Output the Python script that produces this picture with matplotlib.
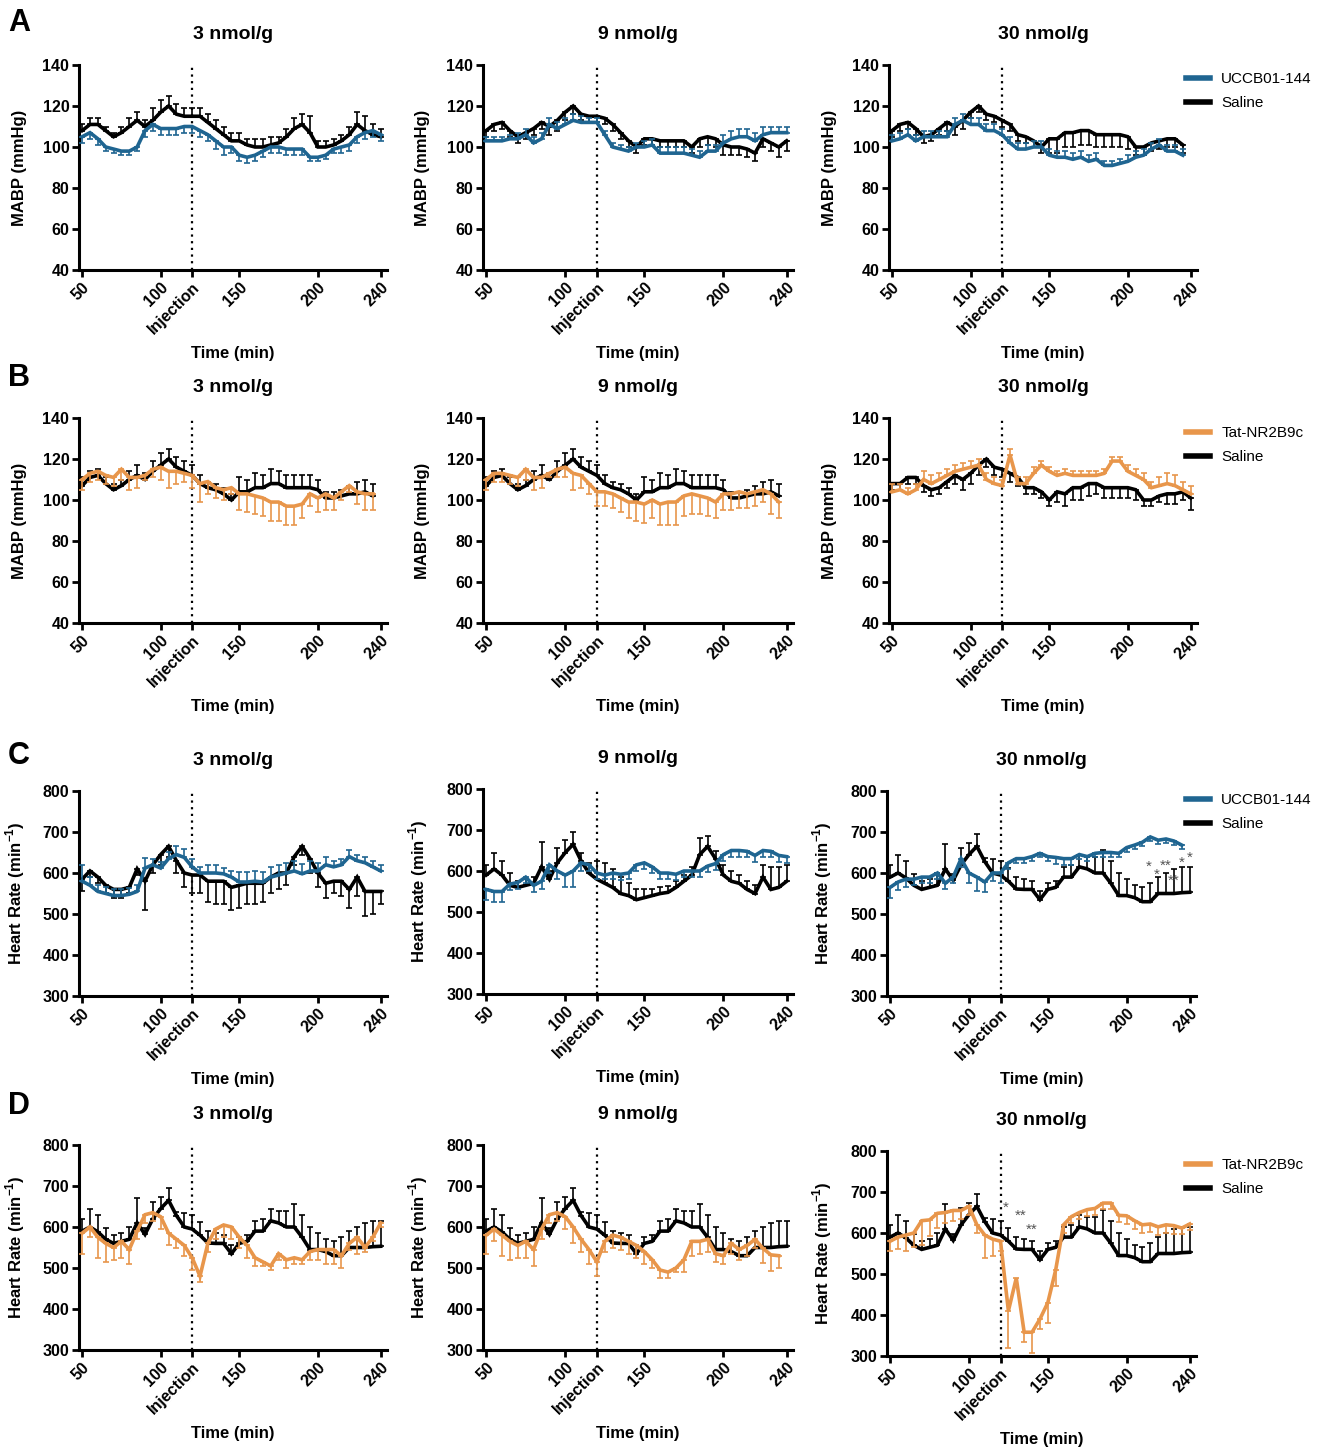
import numpy as np
import matplotlib
matplotlib.use('Agg')
import matplotlib.pyplot as plt
from matplotlib.lines import Line2D

plt.rcParams['font.family'] = ['Liberation Sans', 'DejaVu Sans']
plt.rcParams['font.weight'] = 'bold'
plt.rcParams['axes.labelweight'] = 'bold'
plt.rcParams['mathtext.fontset'] = 'custom'
plt.rcParams['mathtext.rm'] = 'Liberation Sans'
plt.rcParams['mathtext.bf'] = 'Liberation Sans:bold'

BLUE = '#1f6591'
ORANGE = '#e8964b'
W, H = 1323, 1448

##sampling times (min) and axis labels
time_min = [50, 55, 60, 65, 70, 75, 80, 85, 90, 95, 100, 105, 110, 115, 120, 125, 130, 135, 140, 145,
            150, 155, 160, 165, 170, 175, 180, 185, 190, 195, 200, 205, 210, 215, 220, 225, 230, 235, 240]
tick_pos = [50, 100, 120, 150, 200, 240]
tick_lab = ['50', '100', 'Injection', '150', '200', '240']
doses = ['3 nmol/g', '9 nmol/g', '30 nmol/g']

##row A: MABP, UCCB01-144
a3_sal = [108, 111, 111, 108, 105, 107, 110, 113, 110, 113, 117, 120, 116, 115, 115, 115, 112, 109, 106, 103,
          103, 101, 100, 100, 101, 102, 105, 109, 111, 107, 100, 100, 101, 103, 106, 111, 108, 106, 105]
a3_sal_err = [3, 3, 3, 2, 2, 3, 4, 4, 3, 6, 6, 5, 5, 4, 4, 4, 4, 4, 4, 4, 4, 3, 4, 4, 4, 3, 4, 5, 5, 8,
              3, 3, 3, 3, 4, 6, 7, 5, 4]
a3_ucc = [105, 107, 104, 100, 99, 98, 98, 100, 108, 111, 109, 109, 109, 110, 110, 108, 106, 103, 100, 100,
          96, 95, 96, 98, 100, 100, 99, 99, 99, 95, 95, 96, 99, 100, 101, 105, 107, 108, 106]
a3_ucc_err = [3, 3, 3, 2, 2, 2, 2, 2, 3, 3, 3, 3, 3, 3, 3, 3, 3, 4, 4, 3, 3, 3, 3, 3, 3, 3, 3, 3, 3, 2,
              2, 2, 2, 3, 3, 3, 3, 3, 3]

a9_sal = [108, 111, 112, 108, 105, 107, 109, 112, 110, 113, 117, 120, 116, 115, 115, 114, 111, 107, 103, 100,
          104, 104, 103, 103, 103, 103, 100, 104, 105, 104, 101, 100, 100, 99, 97, 104, 102, 100, 103]
a9_sal_err = [3, 3, 3, 3, 3, 3, 3, 3, 4, 5, 4, 4, 3, 3, 3, 3, 3, 3, 3, 3, 3, 3, 3, 3, 3, 3, 3, 4, 4, 4,
              5, 4, 4, 4, 4, 4, 4, 5, 5]
a9_ucc = [103, 103, 103, 104, 104, 106, 102, 104, 111, 109, 111, 113, 112, 112, 112, 106, 100, 99, 98, 100,
          100, 101, 97, 97, 97, 97, 96, 95, 98, 98, 102, 104, 105, 105, 103, 106, 107, 107, 107]
a9_ucc_err = [2, 2, 2, 2, 3, 3, 3, 3, 3, 3, 3, 3, 3, 2, 2, 2, 2, 2, 2, 2, 3, 3, 3, 3, 3, 3, 3, 3, 3, 3,
              4, 4, 4, 4, 4, 4, 3, 3, 3]

a30_sal = [108, 111, 112, 109, 105, 106, 109, 112, 110, 113, 117, 120, 116, 115, 113, 111, 106, 105, 103, 100,
           104, 104, 107, 107, 108, 108, 106, 106, 106, 106, 105, 100, 100, 102, 103, 104, 104, 101]
a30_sal_err = [3, 3, 3, 3, 3, 3, 3, 4, 4, 4, 3, 3, 3, 3, 3, 3, 3, 3, 3, 3, 7, 7, 7, 7, 7, 7, 6, 6, 6, 6,
               6, 4, 4, 4, 4, 4, 4, 4]
a30_ucc = [103, 104, 106, 103, 105, 105, 105, 105, 111, 113, 111, 111, 108, 108, 106, 102, 99, 99, 100, 100,
           96, 95, 95, 94, 95, 93, 94, 91, 91, 92, 93, 95, 96, 99, 101, 98, 98, 96]
a30_ucc_err = [3, 3, 3, 3, 3, 3, 3, 3, 3, 3, 3, 3, 3, 3, 3, 3, 3, 3, 3, 3, 3, 3, 3, 3, 3, 3, 3, 2, 2, 2,
               3, 3, 3, 3, 3, 3, 3, 3]

##row B: MABP, Tat-NR2B9c
b_sal = [107, 111, 112, 108, 105, 107, 110, 112, 110, 114, 117, 120, 116, 114, 112, 108, 106, 105, 103, 100,
         104, 104, 106, 106, 108, 108, 106, 106, 106, 106, 105, 101, 101, 102, 103, 103, 104, 102]
b_sal_err = [4, 3, 3, 3, 3, 3, 4, 5, 3, 5, 6, 5, 5, 5, 5, 4, 3, 3, 3, 3, 7, 6, 7, 6, 7, 6, 6, 6, 6, 6,
             5, 3, 3, 3, 4, 6, 6, 6]
b3_tat = [110, 113, 114, 112, 111, 115, 111, 111, 112, 115, 116, 114, 114, 113, 112, 108, 109, 106, 105, 106,
          103, 103, 102, 101, 99, 99, 97, 97, 98, 103, 101, 103, 101, 104, 107, 104, 103, 103]
b3_tat_err = [5, 4, 4, 4, 4, 5, 6, 5, 2, 4, 6, 8, 6, 4, 6, 9, 6, 5, 5, 3, 8, 9, 9, 9, 9, 9, 9, 9, 7, 6,
              7, 8, 6, 4, 3, 6, 8, 8]
b9_tat = [110, 113, 113, 112, 111, 115, 111, 111, 113, 115, 116, 113, 112, 108, 104, 104, 103, 101, 99, 99,
          98, 100, 98, 99, 99, 102, 103, 102, 101, 99, 103, 103, 104, 103, 104, 105, 103, 99]
b9_tat_err = [5, 4, 4, 4, 4, 5, 6, 5, 2, 4, 5, 8, 6, 5, 7, 7, 7, 7, 8, 9, 9, 9, 10, 11, 11, 10, 10, 9, 9, 8,
              8, 8, 8, 7, 7, 6, 10, 8]
b30_sal = [108, 108, 111, 111, 107, 105, 106, 109, 112, 110, 113, 117, 120, 116, 115, 113, 111, 106, 106, 104,
           100, 104, 103, 106, 106, 108, 108, 106, 106, 106, 106, 105, 100, 100, 102, 103, 103, 104, 101]
b30_sal_err = [3, 3, 3, 3, 3, 3, 3, 3, 4, 5, 5, 5, 4, 4, 4, 4, 4, 3, 3, 3, 3, 5, 6, 6, 6, 6, 5, 5, 5, 5,
               5, 5, 3, 3, 3, 5, 5, 4, 6]
b30_tat = [104, 105, 103, 105, 110, 108, 110, 112, 114, 115, 116, 117, 110, 108, 107, 122, 108, 108, 113, 117,
           114, 112, 113, 112, 112, 112, 112, 113, 119, 119, 114, 112, 110, 106, 107, 108, 107, 105, 103]
b30_tat_err = [4, 3, 3, 3, 4, 4, 3, 3, 3, 3, 3, 3, 3, 3, 3, 3, 3, 3, 3, 2, 2, 2, 2, 2, 2, 2, 2, 2, 2, 2,
               3, 3, 3, 3, 4, 5, 5, 4, 4]

##row C: heart rate, UCCB01-144
c3_sal = [585, 605, 590, 570, 560, 560, 565, 610, 580, 620, 645, 665, 630, 600, 595, 595, 580, 580, 580, 565,
          570, 575, 575, 575, 590, 600, 600, 640, 665, 635, 600, 575, 580, 580, 560, 590, 555, 555, 555]
c3_sal_err = [30, 15, 15, 20, 20, 20, 15, 15, 70, 20, 25, 25, 30, 35, 45, 45, 50, 55, 55, 55, 55, 50, 50,
              45, 40, 40, 30, 20, 20, 35, 35, 35, 30, 35, 45, 45, 60, 55, 30]
c3_ucc = [580, 570, 555, 550, 545, 545, 548, 555, 612, 620, 612, 635, 645, 638, 615, 600, 600, 600, 598, 590,
          578, 578, 580, 578, 590, 595, 600, 605, 598, 605, 605, 620, 615, 620, 640, 630, 625, 615, 605]
c3_ucc_err = [40, 20, 15, 15, 15, 15, 15, 15, 25, 15, 15, 15, 20, 20, 20, 15, 20, 20, 15, 15, 25, 25, 25,
              25, 25, 25, 25, 25, 25, 25, 20, 20, 15, 15, 15, 15, 15, 15, 15]
c9_sal = [590, 605, 590, 565, 560, 565, 570, 610, 580, 620, 645, 665, 625, 595, 580, 570, 560, 545, 540, 530,
          535, 540, 545, 548, 560, 575, 590, 640, 660, 630, 590, 575, 570, 555, 545, 585, 555, 560, 575]
c9_sal_err = [25, 40, 35, 30, 15, 15, 15, 60, 20, 35, 30, 30, 20, 25, 45, 50, 45, 40, 30, 25, 20, 15, 15,
              15, 15, 15, 20, 40, 25, 20, 25, 25, 20, 20, 20, 30, 55, 50, 40]
c9_ucc = [555, 550, 550, 568, 572, 585, 565, 575, 615, 600, 590, 600, 620, 615, 595, 590, 595, 592, 595, 615,
          620, 610, 595, 595, 592, 600, 600, 600, 612, 618, 640, 650, 650, 648, 638, 650, 648, 638, 635]
c9_ucc_err = [25, 25, 25, 15, 15, 15, 15, 20, 20, 20, 30, 40, 20, 15, 15, 10, 15, 15, 15, 15, 15, 15, 15,
              15, 15, 15, 15, 15, 15, 15, 15, 15, 15, 15, 15, 15, 15, 15, 15]
c30_ucc = [565, 578, 585, 585, 590, 590, 600, 575, 590, 635, 600, 590, 578, 600, 600, 625, 635, 635, 640, 648,
           640, 638, 635, 635, 645, 640, 648, 650, 650, 648, 662, 668, 675, 688, 680, 683, 678, 668]
c30_ucc_err = [25, 20, 20, 15, 15, 15, 15, 15, 15, 20, 25, 35, 25, 20, 25, 15, 10, 10, 10, 10, 10, 15, 15,
               15, 10, 10, 10, 10, 10, 10, 10, 10, 10, 10, 10, 10, 10, 10]

##row D: heart rate, Tat-NR2B9c (saline group shared with C 30 nmol/g)
d_sal = [590, 600, 588, 570, 560, 565, 570, 610, 582, 620, 645, 665, 628, 600, 595, 580, 561, 560, 560, 535,
         560, 565, 590, 590, 615, 610, 600, 600, 575, 545, 545, 540, 530, 530, 550, 550, 550, 552, 553]
d_sal_err = [30, 45, 42, 28, 20, 20, 30, 60, 15, 40, 28, 30, 8, 35, 35, 32, 30, 25, 20, 20, 15, 15, 25,
             30, 28, 30, 40, 55, 55, 55, 40, 30, 35, 45, 40, 50, 60, 62, 62]
d3_tat = [585, 600, 575, 560, 550, 565, 545, 590, 630, 635, 625, 585, 570, 555, 525, 480, 560, 595, 605, 600,
          575, 555, 525, 515, 505, 535, 520, 525, 520, 540, 545, 545, 545, 530, 560, 575, 550, 575, 610]
d3_tat_err = [50, 25, 50, 45, 30, 40, 35, 20, 20, 20, 30, 30, 20, 25, 30, 15, 20, 25, 30, 30, 25, 30, 20,
              10, 10, 15, 20, 15, 10, 20, 25, 35, 35, 30, 15, 40, 10, 10, 10]
d9_tat = [580, 595, 580, 565, 555, 565, 545, 595, 630, 635, 625, 600, 570, 545, 515, 565, 580, 575, 565, 555,
          540, 520, 495, 490, 500, 520, 565, 565, 570, 535, 530, 560, 545, 555, 570, 548, 532, 530]
d9_tat_err = [45, 30, 50, 45, 30, 40, 40, 25, 20, 20, 30, 40, 30, 35, 35, 25, 30, 30, 30, 30, 30, 20, 20,
              15, 10, 30, 35, 30, 30, 20, 20, 25, 25, 25, 20, 35, 40, 30]
d30_tat = [580, 590, 595, 600, 630, 632, 648, 650, 655, 655, 665, 620, 595, 585, 580, 410, 490, 358, 358, 390,
           430, 510, 620, 640, 650, 657, 660, 673, 673, 643, 642, 630, 620, 622, 615, 620, 618, 612, 622]
d30_tat_err = [25, 30, 40, 35, 60, 40, 35, 25, 25, 20, 20, 20, 55, 40, 25, 90, 20, 25, 50, 25, 50, 40, 20,
               15, 15, 15, 15, 15, 15, 15, 20, 20, 20, 20, 20, 20, 20, 15, 15]

##significance marks (time, rate, label)
c30_stars = [(214, 616, '*'), (219, 596, '*'), (225, 618, '**'), (230, 580, '**'), (235, 626, '*'), (240, 638, '*')]
d30_stars = [(123, 662, '*'), (133, 642, '**'), (140, 608, '**')]

##(saline, saline err, saline dir, drug, drug err, drug dir)
rows = [
    dict(letter='A', drug='UCCB01-144', col=BLUE, ylab='MABP (mmHg)', ylim=(40, 140), yt=range(40, 141, 20),
         panels=[(a3_sal, a3_sal_err, 1, a3_ucc, a3_ucc_err, -1),
                 (a9_sal, a9_sal_err, -1, a9_ucc, a9_ucc_err, 1),
                 (a30_sal, a30_sal_err, -1, a30_ucc, a30_ucc_err, 1)]),
    dict(letter='B', drug='Tat-NR2B9c', col=ORANGE, ylab='MABP (mmHg)', ylim=(40, 140), yt=range(40, 141, 20),
         panels=[(b_sal, b_sal_err, 1, b3_tat, b3_tat_err, -1),
                 (b_sal, b_sal_err, 1, b9_tat, b9_tat_err, -1),
                 (b30_sal, b30_sal_err, -1, b30_tat, b30_tat_err, 1)]),
    dict(letter='C', drug='UCCB01-144', col=BLUE, ylab=r'Heart Rate (min$^{\mathbf{-1}}$)', ylim=(300, 800),
         yt=range(300, 801, 100),
         panels=[(c3_sal, c3_sal_err, -1, c3_ucc, c3_ucc_err, 1),
                 (c9_sal, c9_sal_err, 1, c9_ucc, c9_ucc_err, -1),
                 (d_sal, d_sal_err, 1, c30_ucc, c30_ucc_err, -1)]),
    dict(letter='D', drug='Tat-NR2B9c', col=ORANGE, ylab=r'Heart Rate (min$^{\mathbf{-1}}$)', ylim=(300, 800),
         yt=range(300, 801, 100),
         panels=[(d_sal, d_sal_err, 1, d3_tat, d3_tat_err, -1),
                 (d_sal, d_sal_err, 1, d9_tat, d9_tat_err, -1),
                 (d_sal, d_sal_err, 1, d30_tat, d30_tat_err, -1)]),
]

##axes boxes in pixels: left, top, right, bottom
boxes = [[(79, 65, 387, 270), (483, 65, 793, 270), (889, 65, 1197, 270)],
         [(79, 418, 387, 623), (483, 418, 793, 623), (889, 418, 1197, 623)],
         [(79, 791, 387, 996), (483, 789, 793, 994), (887, 791, 1196, 996)],
         [(79, 1145, 387, 1350), (483, 1145, 793, 1350), (887, 1151, 1196, 1356)]]
letter_top = [8, 363, 741, 1091]
legend_top = [72, 426, 793, 1158]


def drawSeries(ax, vals, err, direction, color, z):
    t = np.array(time_min[:len(vals)])
    v = np.array(vals, dtype=float)
    e = np.array(err, dtype=float)
    zero = np.zeros_like(e)
    yerr = [zero, e] if direction > 0 else [e, zero]
    ax.errorbar(t, v, yerr=yerr, fmt='none', ecolor=color, elinewidth=1.2, capsize=2.5, capthick=1.2, zorder=z)
    ax.plot(t, v, color=color, lw=2.6, zorder=z + 0.5, solid_joinstyle='miter')


fig = plt.figure(figsize=(W / 100, H / 100), dpi=100)

for r, row in enumerate(rows):
    fig.text(8 / W, 1 - letter_top[r] / H, row['letter'], fontsize=22, fontweight='bold', va='top', ha='left')
    for c, pan in enumerate(row['panels']):
        l, t, rr, b = boxes[r][c]
        ax = fig.add_axes([l / W, 1 - b / H, (rr - l) / W, (b - t) / H])
        sal, sal_err, sal_dir, drg, drg_err, drg_dir = pan
        drawSeries(ax, sal, sal_err, sal_dir, 'black', 2)
        drawSeries(ax, drg, drg_err, drg_dir, row['col'], 3)
        ax.axvline(120, color='black', ls=(0, (1, 2)), lw=1.6, zorder=1)

        ax.set_xlim(48, 244)
        ax.set_ylim(*row['ylim'])
        ax.set_yticks(list(row['yt']))
        ax.set_xticks(tick_pos)
        ax.set_xticklabels(tick_lab, rotation=45, ha='right', rotation_mode='anchor')
        for s in ('top', 'right'):
            ax.spines[s].set_visible(False)
        for s in ('left', 'bottom'):
            ax.spines[s].set_linewidth(2.2)
        ax.tick_params(width=2, length=5, labelsize=11.5, pad=2)
        ax.set_title(doses[c], fontsize=14, fontweight='bold', pad=19)
        ax.set_xlabel('Time (min)', fontsize=12)
        ax.xaxis.set_label_coords(0.5, -0.37)
        ax.set_ylabel(row['ylab'], fontsize=12)
        ax.yaxis.set_label_coords(-0.17, 0.5)

        if c == 2:
            handles = [Line2D([], [], color=row['col'], lw=4), Line2D([], [], color='black', lw=4)]
            ax.legend(handles, [row['drug'], 'Saline'], loc='upper left',
                      bbox_to_anchor=(1186 / W, 1 - legend_top[r] / H), bbox_transform=fig.transFigure,
                      frameon=False, prop={'weight': 'normal', 'size': 11}, handlelength=1.6,
                      handletextpad=0.7, labelspacing=0.65, borderpad=0, borderaxespad=0)
            stars = c30_stars if r == 2 else (d30_stars if r == 3 else [])
            for sx, sy, lab in stars:
                ax.text(sx, sy, lab, color='#555555', fontsize=11, fontweight='normal', ha='center', va='center')

fig.savefig('out.png', dpi=100)
